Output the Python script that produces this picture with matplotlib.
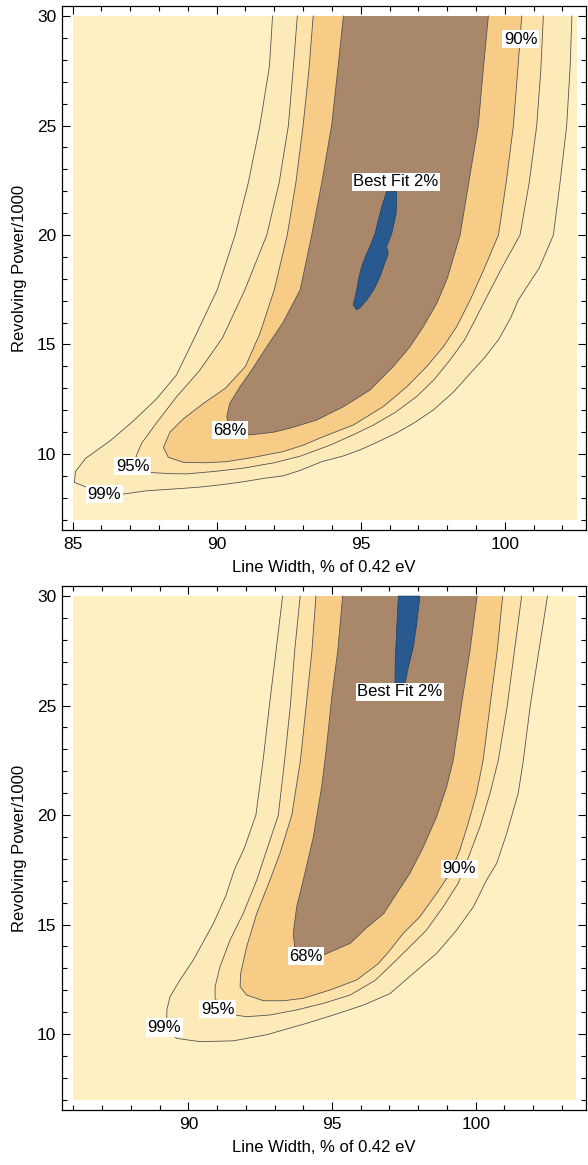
import numpy as np
import matplotlib
matplotlib.use('Agg')
import matplotlib.pyplot as plt
from matplotlib.ticker import MultipleLocator

plt.rcParams['font.family'] = ['Liberation Sans', 'DejaVu Sans']

#=========================== data ===========================
# shaded area of each panel
top_xrange = [85.0, 102.5]
bot_xrange = [86.0, 103.5]
yrange = [7.0, 30.0]

# contour lines, each from the top edge down round the bend and back up (x, y)
top99 = [(91.94, 30), (91.83, 27.7), (91.50, 25), (91.10, 22.4), (90.64, 20), (90.02, 17.5),
         (89.30, 15.5), (88.60, 13.6), (87.90, 12.5), (87.10, 11.5), (86.30, 10.6), (85.45, 9.8),
         (85.10, 9.2), (85.06, 8.7), (85.43, 8.51), (86.00, 8.30), (86.76, 8.17), (87.57, 8.32),
         (88.50, 8.40), (89.36, 8.48), (90.20, 8.60), (90.92, 8.73), (91.70, 8.90), (92.31, 9.00),
         (92.90, 9.25), (93.65, 9.65), (94.40, 9.91), (95.00, 10.20), (95.61, 10.56), (96.30, 11.00),
         (96.83, 11.40), (97.52, 12.01), (98.20, 12.80), (98.80, 13.68), (99.30, 14.40), (99.78, 15.21),
         (100.20, 16.20), (100.47, 17.03), (101.20, 18.5), (101.69, 20), (101.92, 22.4), (102.15, 25),
         (102.27, 27.7), (102.33, 30)]
top95 = [(92.80, 30), (92.65, 27.5), (92.49, 25), (92.17, 22.4), (91.74, 20), (90.98, 17.5),
         (90.20, 15.3), (89.40, 13.8), (88.60, 12.6), (87.90, 11.4), (87.40, 10.5), (87.20, 9.9),
         (87.40, 9.4), (87.74, 9.15), (88.40, 9.10), (88.96, 9.09), (89.90, 9.20), (90.92, 9.35),
         (92.00, 9.60), (92.90, 9.90), (93.93, 10.40), (94.70, 10.85), (95.44, 11.32), (96.20, 11.90),
         (96.94, 12.62), (97.55, 13.40), (98.10, 14.29), (98.60, 15.20), (98.91, 15.97), (99.32, 17.03),
         (99.90, 18.5), (100.53, 20), (100.85, 22.4), (101.11, 25), (101.25, 27.5), (101.34, 30)]
top90 = [(93.35, 30), (93.20, 27.5), (93.00, 25), (92.75, 22.4), (92.45, 20), (92.00, 17.5),
         (91.50, 15.5), (91.00, 14.0), (90.30, 13.0), (89.53, 12.3), (88.84, 11.6), (88.38, 11.0),
         (88.15, 10.3), (88.32, 9.85), (88.84, 9.62), (89.60, 9.60), (90.35, 9.65), (91.30, 9.85),
         (92.31, 10.11), (93.00, 10.40), (93.70, 10.79), (94.74, 11.32), (95.78, 12.16), (96.60, 13.07),
         (97.29, 13.99), (97.87, 14.90), (98.33, 15.81), (98.80, 17.03), (99.30, 18.5), (99.78, 20),
         (100.05, 22.4), (100.30, 25), (100.45, 27.5), (100.59, 30)]
top68 = [(94.40, 30), (94.20, 27.5), (93.99, 25), (93.65, 22.4), (93.30, 20), (92.90, 17.5),
         (92.30, 16.0), (91.74, 14.9), (91.22, 13.84), (90.81, 13.07), (90.45, 12.3), (90.35, 11.7),
         (90.45, 11.2), (90.80, 10.95), (91.16, 10.87), (92.00, 11.00), (92.60, 11.20), (93.47, 11.55),
         (94.40, 12.16), (95.32, 12.92), (96.13, 13.99), (96.71, 14.90), (97.17, 15.81), (97.64, 16.88),
         (98.00, 18.0), (98.45, 20), (98.75, 22.4), (99.08, 25), (99.25, 27.5), (99.43, 30)]
top_best = [(95.90, 21.98), (95.73, 21.29), (95.61, 20.68), (95.50, 20.08), (95.32, 19.47),
            (95.21, 19.16), (95.03, 18.55), (94.92, 17.95), (94.86, 17.49), (94.74, 16.80),
            (94.86, 16.58), (94.97, 16.67), (95.21, 17.03), (95.45, 17.50), (95.67, 18.10),
            (95.79, 18.55), (95.96, 19.16), (95.90, 19.47), (96.08, 20.08), (96.23, 20.99), (96.25, 21.98)]

bot99 = [(93.28, 30), (93.05, 27.5), (92.82, 25), (92.60, 22.5), (92.35, 20), (91.95, 18.5),
         (91.60, 17.5), (91.30, 16.3), (90.87, 15.05), (90.17, 13.38), (89.71, 12.47), (89.36, 11.70),
         (89.25, 11.10), (89.25, 10.60), (89.40, 10.00), (89.60, 9.80), (90.41, 9.65), (91.57, 9.69),
         (92.73, 9.97), (94.12, 10.49), (95.05, 10.87), (96.09, 11.32), (97.02, 11.85), (97.83, 12.77),
         (98.64, 13.68), (99.34, 14.75), (99.92, 15.81), (100.38, 17.03), (100.73, 17.79), (101.08, 19.16),
         (101.48, 20.99), (101.66, 22.51), (101.90, 25), (102.20, 27.5), (102.50, 30)]
bot95 = [(93.89, 30), (93.70, 27.5), (93.55, 25), (93.35, 22.5), (93.13, 20), (92.70, 18.3),
         (92.38, 17.03), (91.91, 15.51), (91.45, 14.29), (91.10, 13.07), (90.93, 12.16), (90.93, 11.63),
         (91.20, 11.10), (91.62, 10.87), (92.03, 10.79), (92.84, 10.87), (93.77, 11.10), (94.70, 11.40),
         (95.63, 11.78), (96.50, 12.45), (97.10, 13.20), (97.71, 13.99), (98.29, 14.75), (98.87, 15.81),
         (99.39, 16.88), (99.80, 18.25), (100.15, 19.47), (100.50, 20.99), (100.79, 22.51), (101.10, 25),
         (101.35, 27.5), (101.60, 30)]
bot90 = [(94.44, 30), (94.30, 27.5), (94.10, 25), (93.90, 22.5), (93.60, 20), (93.20, 18.3),
         (92.84, 17.03), (92.38, 15.51), (92.03, 13.99), (91.82, 12.77), (91.80, 12.16), (92.03, 11.78),
         (92.61, 11.52), (93.31, 11.52), (94.00, 11.63), (94.93, 12.01), (95.86, 12.47), (96.60, 13.20),
         (97.00, 13.80), (97.48, 14.60), (98.06, 15.36), (98.64, 16.42), (99.11, 17.34), (99.45, 18.40),
         (99.74, 19.62), (100.03, 20.99), (100.26, 22.51), (100.50, 25), (100.75, 27.5), (100.94, 30)]
bot68 = [(95.37, 30), (95.20, 27.5), (95.00, 25.5), (94.80, 23), (94.64, 21.3), (94.35, 19.0),
         (94.00, 17.03), (93.77, 15.81), (93.65, 14.60), (93.70, 14.00), (93.90, 13.70), (94.30, 13.62),
         (94.70, 13.61), (95.63, 14.14), (96.20, 14.85), (96.80, 15.50), (97.25, 16.42), (97.71, 17.34),
         (98.18, 18.55), (98.64, 19.92), (98.99, 21.29), (99.22, 22.51), (99.50, 25), (99.80, 27.5),
         (100.05, 30)]
bot_best = [(97.31, 30), (97.25, 28.5), (97.20, 27.0), (97.19, 26.0), (97.54, 26.0), (97.66, 26.77),
            (97.83, 27.68), (97.95, 28.75), (98.06, 30)]

# contour labels (text, x, y)
top_labels = [('Best Fit 2%', 96.22, 22.43), ('90%', 100.56, 28.94), ('68%', 90.46, 11.08),
              ('95%', 87.08, 9.45), ('99%', 86.09, 8.16)]
bot_labels = [('Best Fit 2%', 97.37, 25.63), ('90%', 99.43, 17.54), ('68%', 94.09, 13.55),
              ('95%', 91.02, 11.13), ('99%', 89.16, 10.30)]

top_xlim = [84.63, 102.82]
bot_xlim = [85.6, 103.84]
ylim = [6.53, 30.46]

#=========================== styling ===========================
bg_color = '#FEF0C3'
band_colors = ['#FDEAB9', '#FDE3AA', '#F6CC86', '#A8876A']   # inside 99, 95, 90, 68
best_color = '#285A8F'
line_color = '#555555'


def panel(ax, xrange, contours, best, labels, xlim):
    ax.fill_between(xrange, yrange[0], yrange[1], color=bg_color, lw=0, zorder=0)
    for c, col in zip(contours, band_colors):
        pts = np.array(c)
        ax.fill(pts[:, 0], pts[:, 1], color=col, lw=0, zorder=1)
        ax.plot(pts[:, 0], pts[:, 1], color=line_color, lw=0.6, zorder=2)
    b = np.array(best)
    ax.fill(b[:, 0], b[:, 1], facecolor=best_color, edgecolor='#1E3F66', lw=0.5, zorder=3)
    for txt, x, y in labels:
        ax.text(x, y, txt, fontsize=12, ha='center', va='center', zorder=5,
                bbox=dict(facecolor='white', edgecolor='none', pad=1.2))
    ax.set_xlim(xlim)
    ax.set_ylim(ylim)
    ax.xaxis.set_major_locator(MultipleLocator(5))
    ax.xaxis.set_minor_locator(MultipleLocator(1))
    ax.yaxis.set_major_locator(MultipleLocator(5))
    ax.yaxis.set_minor_locator(MultipleLocator(1))
    ax.tick_params(which='both', direction='in', top=True, right=True, width=0.8, labelsize=12.5)
    ax.tick_params(which='major', length=6)
    ax.tick_params(which='minor', length=3.5)
    ax.tick_params(axis='x', pad=5)
    ax.tick_params(axis='y', pad=4)
    for s in ax.spines.values():
        s.set_linewidth(0.9)
    ax.set_xlabel('Line Width, % of 0.42 eV', fontsize=12, labelpad=6)
    ax.set_ylabel('Revolving Power/1000', fontsize=12, labelpad=7)


fig = plt.figure(figsize=(5.88, 11.65), dpi=100)
ax1 = fig.add_axes([0.1054, 0.5451, 0.8912, 0.4498])
ax2 = fig.add_axes([0.1054, 0.0472, 0.8912, 0.4498])

panel(ax1, top_xrange, [top99, top95, top90, top68], top_best, top_labels, top_xlim)
panel(ax2, bot_xrange, [bot99, bot95, bot90, bot68], bot_best, bot_labels, bot_xlim)

fig.savefig('out.png', dpi=100)
